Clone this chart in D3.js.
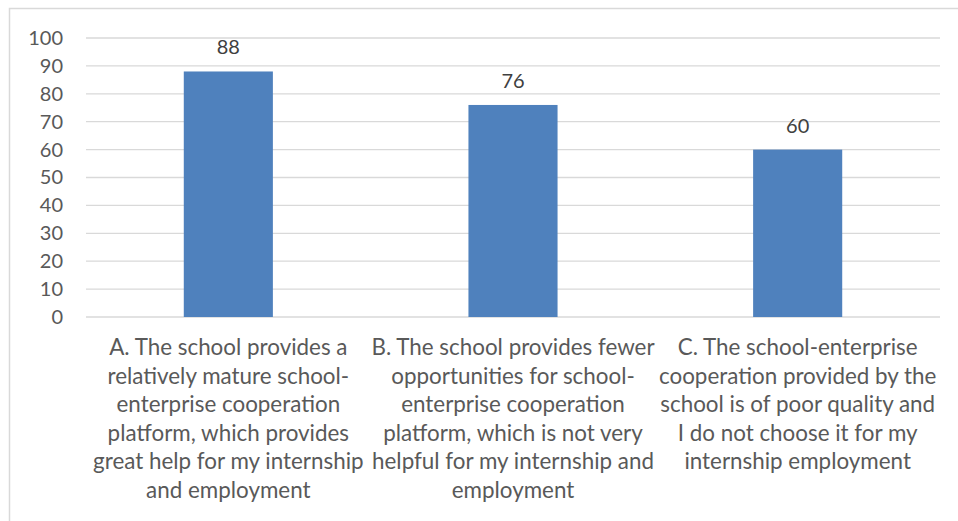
<!DOCTYPE html>
<html>
<head>
<meta charset="utf-8">
<script src="https://cdn.jsdelivr.net/npm/d3@7"></script>
<style>
  body { margin: 0; background: #fff; }
  svg { display: block; font-family: Lato, "Open Sans", sans-serif; }
</style>
</head>
<body>
<svg id="chart" width="958" height="521"></svg>
<script>
// categories, each as its wrapped lines
const categories = ["A", "B", "C"];
const categoryLines = [
    ["A. The school provides a", "relatively mature school-", "enterprise cooperation", "platform, which provides", "great help for my internship", "and employment"],
    ["B. The school provides fewer", "opportunities for school-", "enterprise cooperation", "platform, which is not very", "helpful for my internship and", "employment"],
    ["C. The school-enterprise", "cooperation provided by the", "school is of poor quality and", "I do not choose it for my", "internship employment"]
];
const values = [88, 76, 60];
const yTicks = [0, 10, 20, 30, 40, 50, 60, 70, 80, 90, 100];

const svg = d3.select("#chart");

// chart frame
svg.append("rect")
    .attr("x", 9.5).attr("y", 8.5)
    .attr("width", 960).attr("height", 530)
    .attr("fill", "none")
    .attr("stroke", "#d9d9d9")
    .attr("stroke-width", 1.5);

const plot = { left: 86, right: 940, top: 38, bottom: 317 };

const x = d3.scaleBand()
    .domain(categories)
    .range([plot.left, plot.right]);

const y = d3.scaleLinear()
    .domain([0, 100])
    .range([plot.bottom, plot.top]);

const barW = x.bandwidth() * 0.313;

// gridlines
svg.append("g")
    .selectAll("line")
    .data(yTicks)
    .join("line")
    .attr("x1", plot.left).attr("x2", plot.right)
    .attr("y1", d => y(d)).attr("y2", d => y(d))
    .attr("stroke", "#d9d9d9")
    .attr("stroke-width", 1.3);

// y axis labels
const yAxis = svg.append("g")
    .attr("transform", `translate(${plot.left - 23},0)`)
    .call(d3.axisLeft(y).tickValues(yTicks).tickSize(0).tickPadding(0));
yAxis.select(".domain").remove();
yAxis.selectAll("text")
    .attr("fill", "#595959")
    .style("font-size", "20px")
    .style("font-family", "Lato, sans-serif");

// bars
svg.append("g")
    .selectAll("rect")
    .data(values)
    .join("rect")
    .attr("x", (d, i) => x(categories[i]) + (x.bandwidth() - barW) / 2)
    .attr("width", barW)
    .attr("y", d => y(d))
    .attr("height", d => y(0) - y(d))
    .attr("fill", "#4f81bd");

// value labels
svg.append("g")
    .selectAll("text")
    .data(values)
    .join("text")
    .attr("x", (d, i) => x(categories[i]) + x.bandwidth() / 2)
    .attr("y", d => y(d) - 17)
    .attr("text-anchor", "middle")
    .attr("fill", "#404040")
    .style("font-size", "20px")
    .text(d => d);

// category labels
const catG = svg.append("g")
    .selectAll("text")
    .data(categoryLines)
    .join("text")
    .attr("x", (d, i) => x(categories[i]) + x.bandwidth() / 2)
    .attr("y", 355)
    .attr("text-anchor", "middle")
    .attr("fill", "#595959")
    .style("font-size", "22.4px");

catG.selectAll("tspan")
    .data(d => d)
    .join("tspan")
    .attr("x", function () { return d3.select(this.parentNode).attr("x"); })
    .attr("dy", (d, i) => i === 0 ? 0 : 28.6)
    .text(d => d);
</script>
</body>
</html>
